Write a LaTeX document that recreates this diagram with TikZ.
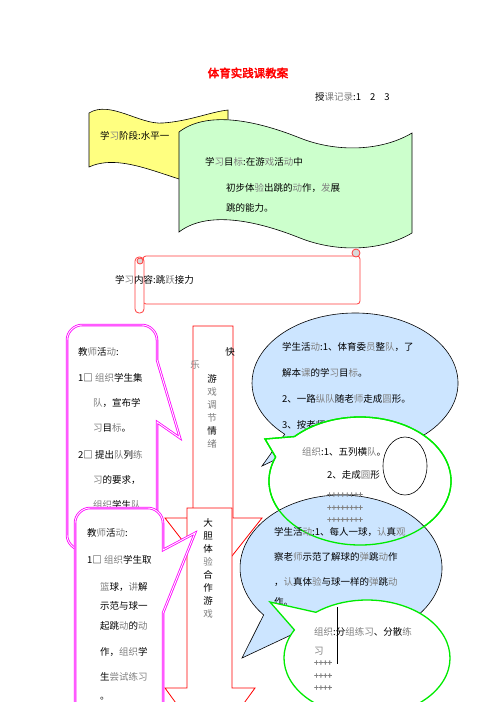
\documentclass[tikz,border=0pt]{standalone}
\usepackage{fontspec}
\setmainfont{Noto Sans CJK SC}[AutoFakeBold=3]
\usetikzlibrary{calc}
\definecolor{flagyellow}{RGB}{255,255,128}
\definecolor{flaggreen}{RGB}{204,255,204}
\definecolor{callblue}{RGB}{204,229,255}
\definecolor{callgreen}{RGB}{0,235,0}
\definecolor{scrollred}{RGB}{255,60,60}
\definecolor{boxpink}{RGB}{255,0,255}
\newcommand{\gr}[1]{\textcolor{gray}{#1}}

\begin{document}
\begin{tikzpicture}[
        x=1pt, y=-1pt,
        every node/.style={inner sep=0pt, font=\fontsize{9.5}{11}\selectfont},
        txt/.style={anchor=west},
        plus/.style={anchor=west, text=gray, font=\fontsize{8}{8}\selectfont\bfseries},
        flag/.style={draw=black, line width=0.6pt},
        scroll/.style={draw=scrollred, line width=0.8pt},
        magbox/.style={draw=boxpink, double=white, double distance=0.9pt, line width=0.8pt, fill=white},
        redarrow/.style={draw=red, fill=white, line width=0.8pt},
        bluecall/.style={draw=black, fill=callblue, line width=0.6pt},
        greencall/.style={draw=callgreen, fill=white, line width=1.3pt}
    ]
        \fill[white] (0,0) rectangle (496,702);
        \useasboundingbox (0,0) rectangle (496,702);
        \clip (0,0) rectangle (496,702);

        \node[font=\fontsize{11.5}{13}\selectfont\bfseries, text=red] (title) at (248,73) {体育实践课教案};
        \node[txt] (record) at (315,97) {授\gr{课记录}:1\hspace{9pt}2\hspace{9pt}3};

        \draw[flag, fill=flagyellow] (89,113) .. controls (110,100) and (140,125) .. (163,123)
            .. controls (190,121) and (210,112) .. (228,110) -- (228,185)
            .. controls (190,195) and (130,148) .. (89,167) -- cycle;
        \node[txt] (stage) at (100,136) {学\gr{习}阶段:水平一};

        \draw[flag, fill=flaggreen] (179,132) .. controls (205,112) and (250,118) .. (300,138)
            .. controls (335,152) and (380,152) .. (412,133) -- (412,233)
            .. controls (380,252) and (335,252) .. (300,238)
            .. controls (250,218) and (205,212) .. (179,232) -- cycle;
        \node[txt] (goal1) at (205,162) {学\gr{习}目\gr{标}:在游\gr{戏}活\gr{动}中};
        \node[txt] (goal2) at (226,188) {初步体\gr{验}出跳的\gr{动}作，\gr{发}展};
        \node[txt] (goal3) at (226,208) {跳的能力。};

        \draw[scroll, rounded corners=3pt] (143,256) rectangle (360,304);
        \draw[scroll, fill=white, rounded corners=4pt] (135,257) rectangle (144,313);
        \draw[scroll, fill=gray!30] (140,261) circle[radius=3];
        \draw[scroll, fill=gray!30] (356,253) circle[radius=4];
        \node[txt] (content) at (115,280) {学\gr{习}内容:跳\gr{跃}接力};

        \draw[magbox] (67,340) .. controls (67,332) and (74,325) .. (82,325) -- (142,325)
            .. controls (150,325) and (157,332) .. (157,340) -- (157,360) -- (180,438) -- (157,422)
            -- (157,535) .. controls (157,543) and (150,550) .. (142,550) -- (82,550)
            .. controls (74,550) and (67,543) .. (67,535) -- cycle;
        \foreach \x/\y/\t [count=\i] in {78/352/教\gr{师}活\gr{动}:, 78/378/1□ \gr{组织}学生集,
            93/403/\gr{队}，宣布学, 93/428/\gr{习}目\gr{标}。, 78/455/2□ 提出\gr{队}列\gr{练},
            93/480/\gr{习}的要求，, 93/505/\gr{组织}学生\gr{队}}
            \node[txt] (teach\i) at (\x,\y) {\t};

        \draw[redarrow] (193,326) -- (233,326) -- (233,518) -- (262,518) -- (213,580) -- (165,518) -- (193,518) -- cycle;
        \node (happy1) at (230,352) {快};
        \node[text=gray] (happy2) at (195,365) {乐};
        \node[font=\fontsize{9.5}{13}\selectfont, align=center] (game1) at (212,411)
            {游\\\gr{戏}\\\gr{调}\\\gr{节}\\情\\\gr{绪}};

        \draw[redarrow] (187,508) -- (232,508) -- (232,688) -- (255,688) -- (210,750) -- (165,688) -- (187,688) -- cycle;
        \node[font=\fontsize{9.5}{13}\selectfont, align=center] (game2) at (208,568)
            {大\\胆\\体\\\gr{验}\\合\\作\\游\\\gr{戏}};

        \draw[magbox] (75,523) .. controls (75,515) and (82,508) .. (90,508) -- (148,508)
            .. controls (156,508) and (163,515) .. (163,523) -- (163,550) -- (195,533) -- (163,613)
            -- (163,720) -- (75,720) -- cycle;
        \foreach \x/\y/\t [count=\i] in {87/533/教\gr{师}活\gr{动}:, 87/560/1□ \gr{组织}学生取,
            100/587/\gr{篮}球，\gr{讲}解, 100/606/示范与球一, 100/626/起跳\gr{动}的\gr{动},
            100/652/作，\gr{组织}学, 100/677/生\gr{尝试练习}, 100/699/。}
            \node[txt] (lead\i) at (\x,\y) {\t};

        \coordinate (b1) at (355,383);
        \draw[bluecall] ($(b1)+(133:103 and 70)$) -- (262,466) -- ($(b1)+(118:103 and 70)$)
            arc[start angle=118, end angle=-227, x radius=103, y radius=70] -- cycle;
        \foreach \y/\t [count=\i] in {347/学生活\gr{动}:1、体育委\gr{员}整\gr{队}，了,
            373/解本\gr{课}的学\gr{习}目\gr{标}。, 399/2、一路\gr{纵队}随老\gr{师}走成\gr{圆}形。,
            425/3、按老师口令做原地跳}
            \node[txt] (learn\i) at (282,\y) {\t};

        \coordinate (g1) at (360,481);
        \draw[greencall] ($(g1)+(-136:91 and 64)$) -- (265,439) -- ($(g1)+(202:91 and 64)$)
            arc[start angle=202, end angle=-136, x radius=91, y radius=64] -- cycle;
        \draw[line width=0.6pt] (405,466) ellipse[x radius=22, y radius=29];

        \coordinate (b2) at (341,568);
        \draw[bluecall] ($(b2)+(140:101 and 73)$) -- (242,658) -- ($(b2)+(117:101 and 73)$)
            arc[start angle=117, end angle=-220, x radius=101, y radius=73] -- cycle;
        \draw[greencall, fill=none] ($(g1)+(-136:91 and 64)$) -- (265,439) -- ($(g1)+(202:91 and 64)$)
            arc[start angle=202, end angle=-136, x radius=91, y radius=64] -- cycle;
        \node[txt] (form1) at (302,452) {\gr{组织}:1、五列横\gr{队}。};
        \node[txt] (form2) at (327,475) {2、走成\gr{圆}形};
        \foreach \y [count=\i] in {495,508,520}
            \node[plus] (rowa\i) at (327,\y) {++++++++};
        \foreach \y/\t [count=\i] in {532/学生活\gr{动}:1、每人一球，\gr{认}真\gr{观},
            557/察老\gr{师}示范了解球的\gr{弹}跳\gr{动}作, 582/，\gr{认}真体\gr{验}与球一样的\gr{弹}跳\gr{动},
            602/作。}
            \node[txt] (play\i) at (274,\y) {\t};

        \coordinate (g2) at (367,658);
        \draw[greencall] ($(g2)+(-128:83 and 58)$) -- (270,602) -- ($(g2)+(209:83 and 58)$)
            arc[start angle=209, end angle=-128, x radius=83, y radius=58] -- cycle;
        \draw[line width=0.8pt] (337,607) -- (337,664);
        \node[txt] (form3) at (314,632) {\gr{组织}:分\gr{组练习}、分散\gr{练}};
        \node[txt, text=gray] (form4) at (314,651) {习};
        \foreach \y [count=\i] in {663,676,688}
            \node[plus] (rowb\i) at (314,\y) {++++};
    \end{tikzpicture}
\end{document}
